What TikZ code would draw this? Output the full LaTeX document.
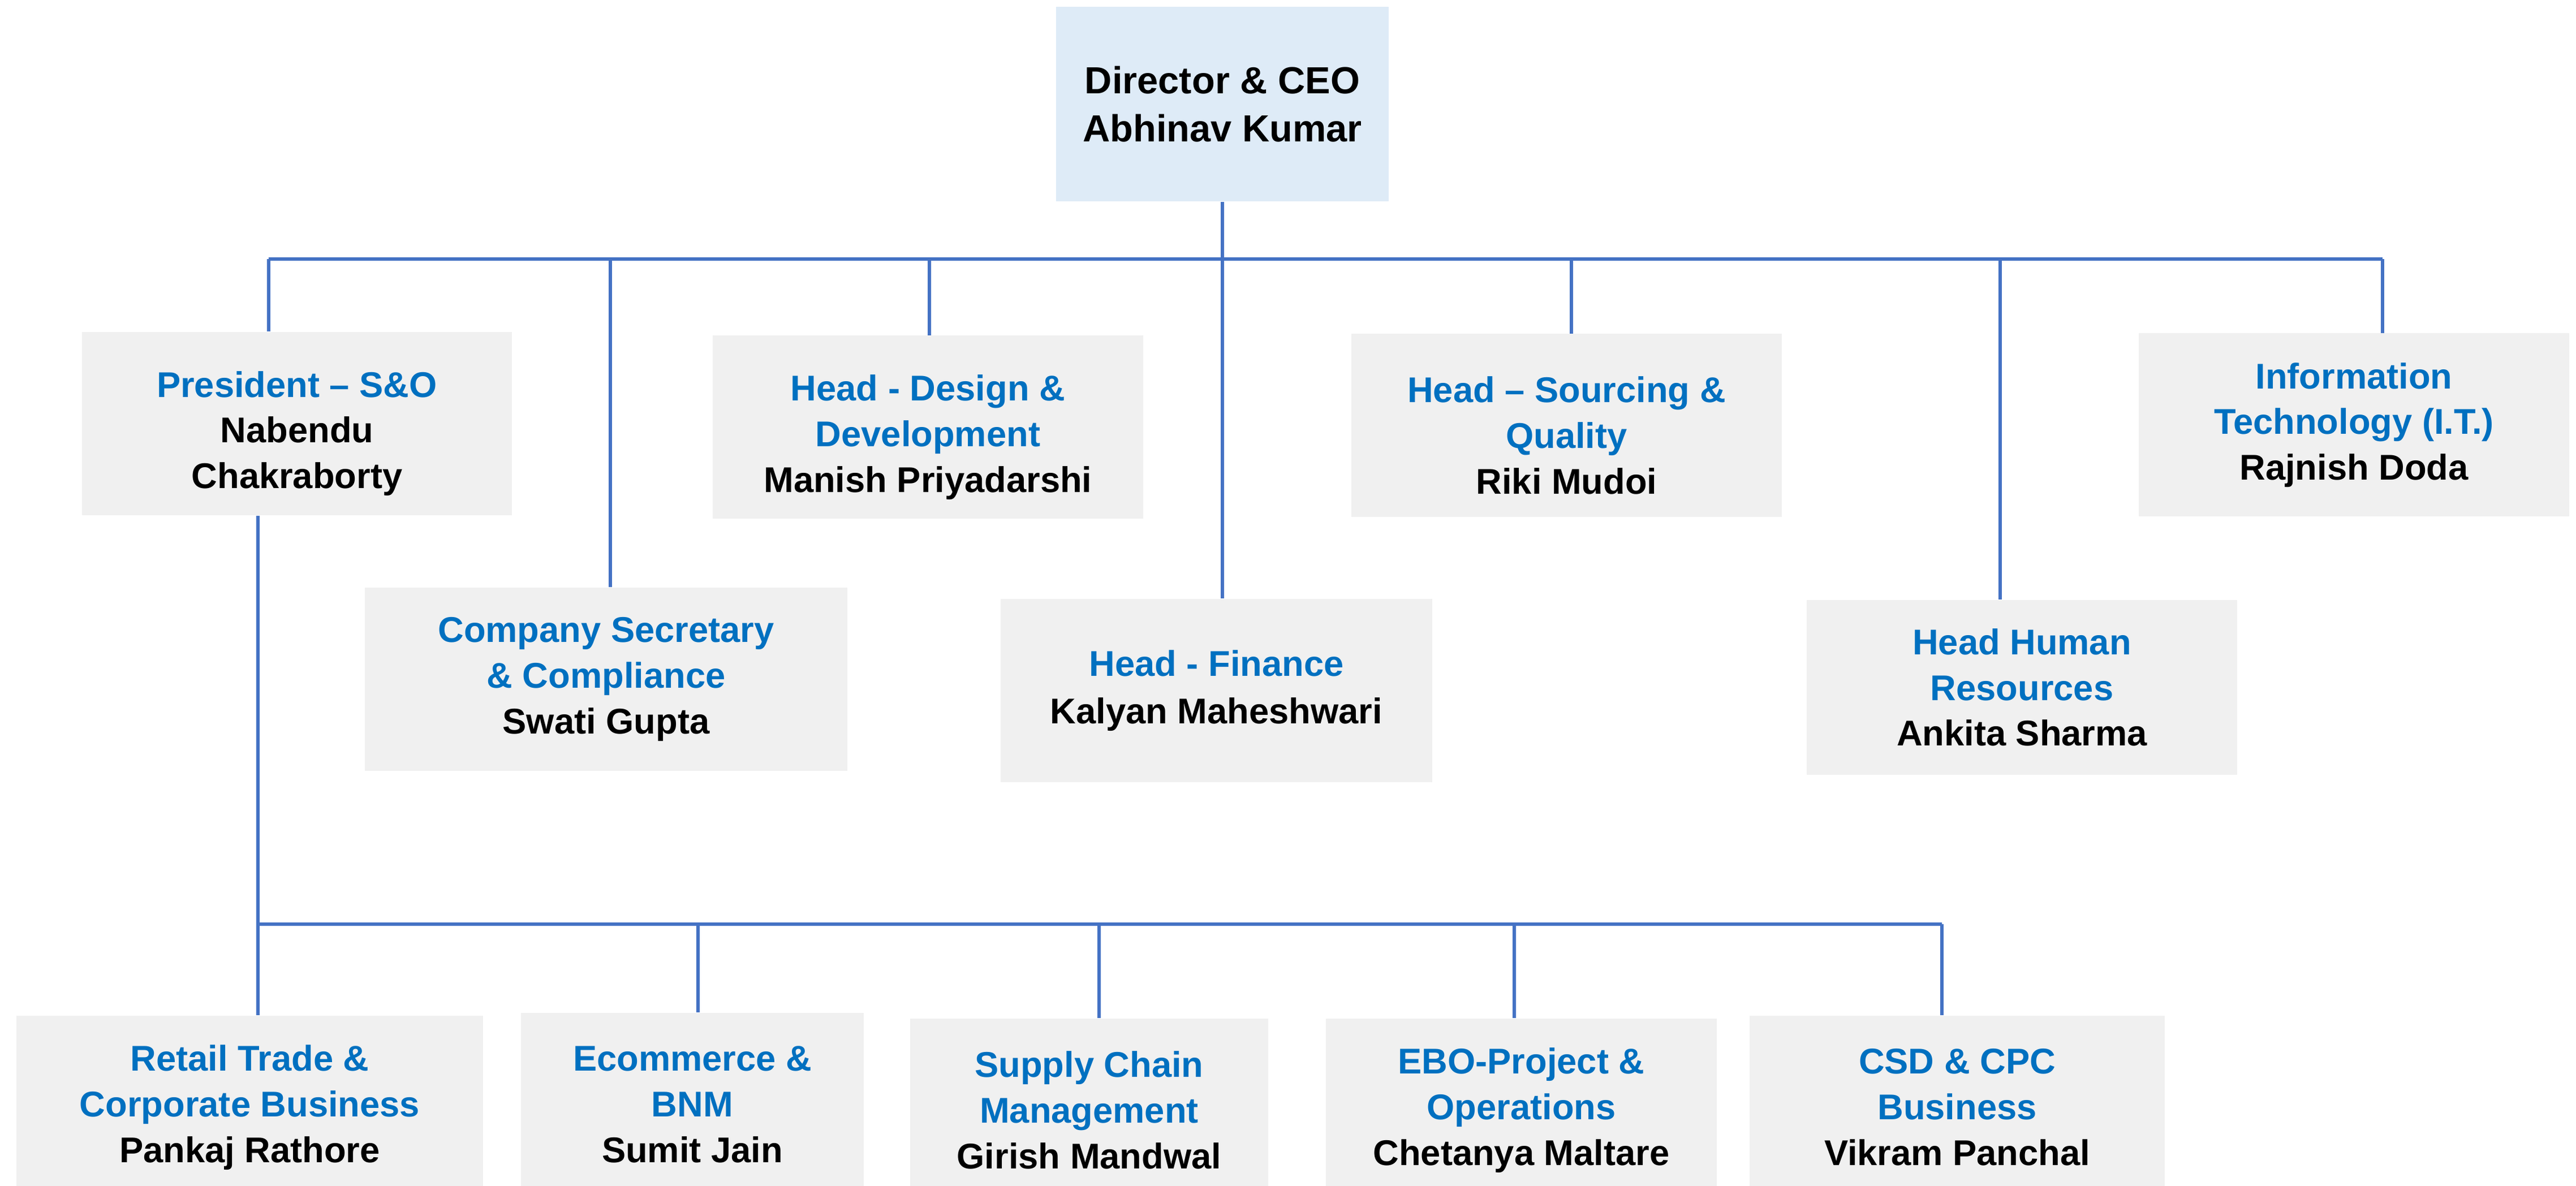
\documentclass[tikz,border=0pt]{standalone}
\usepackage{fontspec}
\setmainfont{Liberation Sans}
\usepackage{tikz}
\usetikzlibrary{positioning, calc}
\definecolor{linkblue}{HTML}{4472C4}
\definecolor{titleblue}{HTML}{0070C0}
\definecolor{boxgray}{HTML}{F0F0F0}
\definecolor{ceoblue}{HTML}{DEEBF7}
\newcommand{\ttl}[1]{\textcolor{titleblue}{#1}}

\begin{document}
\begin{tikzpicture}[
  post/.style={fill=boxgray, inner sep=0pt, align=center, minimum height=3.24cm,
    font=\bfseries\fontsize{18}{23}\selectfont},
  ceobox/.style={post, fill=ceoblue, font=\bfseries\fontsize{19}{24}\selectfont},
  conn/.style={draw=linkblue, line width=1.7pt}
]
  \useasboundingbox (0,0) rectangle (45.54,-20.97);
  \clip (0,0) rectangle (45.54,-20.97);

  % top of the chart
  \node[ceobox, minimum width=5.88cm, minimum height=3.44cm] (ceo) at (21.61,-1.84) {Director \& CEO\\Abhinav Kumar};

  % first level
  \node[post, minimum width=7.60cm] (pres) at (5.25,-7.49) {\rule{0pt}{23pt}\ttl{President – S\&O}\\Nabendu\\Chakraborty};
  \node[post, minimum width=7.61cm] (design) at (16.405,-7.555) {\rule{0pt}{23pt}\ttl{Head - Design \&}\\\ttl{Development}\\Manish Priyadarshi};
  \node[post, minimum width=7.61cm] (src) at (27.695,-7.525) {\rule{0pt}{23pt}\ttl{Head – Sourcing \&}\\\ttl{Quality}\\Riki Mudoi};
  \node[post, minimum width=7.61cm] (it) at (41.615,-7.515) {\ttl{Information}\\\ttl{Technology (I.T.)}\\Rajnish Doda};
  \node[post, minimum width=8.53cm] (cs) at (10.715,-12.01) {\ttl{Company Secretary}\\\ttl{\& Compliance}\\Swati Gupta};
  \node[post, minimum width=7.63cm] (fin) at (21.505,-12.21) {\ttl{Head - Finance}\\[1pt]Kalyan Maheshwari};
  \node[post, minimum width=7.61cm, minimum height=3.09cm] (hr) at (35.745,-12.155) {\ttl{Head Human}\\\ttl{Resources}\\Ankita Sharma};

  % second level under President
  \node[post, minimum width=8.25cm] (retail) at (4.415,-19.58) {\ttl{Retail Trade \&}\\\ttl{Corporate Business}\\Pankaj Rathore};
  \node[post, minimum width=6.06cm] (ecom) at (12.24,-19.53) {\ttl{Ecommerce \&}\\\ttl{BNM}\\Sumit Jain};
  \node[post, minimum width=6.33cm] (scm) at (19.255,-19.63) {\ttl{Supply Chain}\\\ttl{Management}\\Girish Mandwal};
  \node[post, minimum width=6.91cm] (ebo) at (26.895,-19.63) {\ttl{EBO-Project \&}\\\ttl{Operations}\\Chetanya Maltare};
  \node[post, minimum width=7.34cm] (csd) at (34.60,-19.58) {\ttl{CSD \& CPC}\\\ttl{Business}\\Vikram Panchal};

  % bus lines
  \coordinate (busL) at (4.75,-4.58);
  \coordinate (busR) at (42.12,-4.58);
  \coordinate (subL) at (4.56,-16.34);
  \coordinate (subR) at (34.33,-16.34);

  \draw[conn] (busL) -- (busR);
  \draw[conn] (ceo.south) -- (ceo.south |- fin.north);
  \draw[conn] (busL) -- (busL |- pres.north);
  \draw[conn] (busR) -- (busR |- it.north);
  \foreach \x/\n in {10.79/cs, 16.43/design, 27.78/src, 35.36/hr}
    \draw[conn] (\x,0 |- busL) -- (\x,0 |- \n.north);

  \draw[conn] (subL) -- (subR);
  \draw[conn] (subL |- pres.south) -- (subL |- retail.north);
  \foreach \x/\n in {12.34/ecom, 19.43/scm, 26.77/ebo, 34.33/csd}
    \draw[conn] (\x,0 |- subL) -- (\x,0 |- \n.north);
\end{tikzpicture}
\end{document}
